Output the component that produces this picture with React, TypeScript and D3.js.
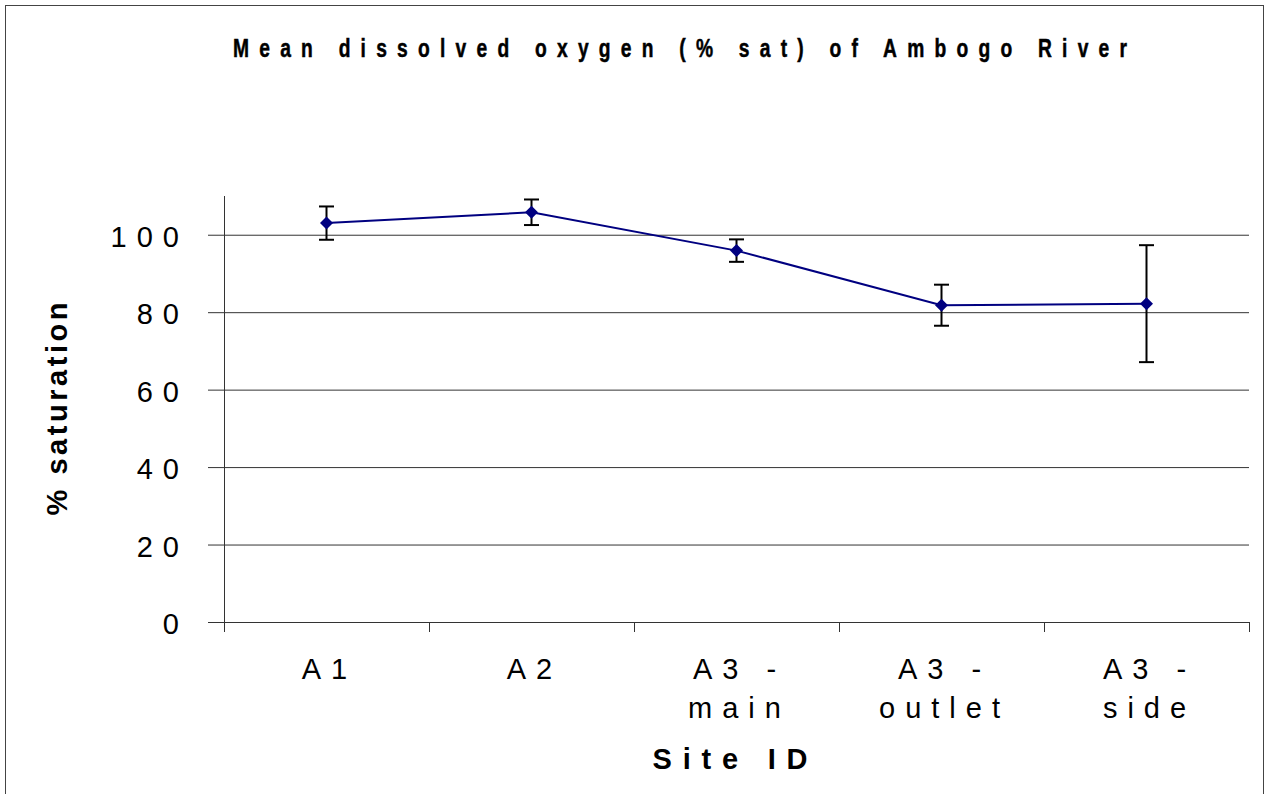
import React from 'react';
import * as d3 from 'd3';

const sites = ['A1', 'A2', 'A3 - main', 'A3 - outlet', 'A3 - side'];
const siteLines = [['A1'], ['A2'], ['A3  -', 'main'], ['A3  -', 'outlet'], ['A3  -', 'side']];
const meanSat = [103.0, 105.8, 95.9, 81.8, 82.2];
const errSat = [4.3, 3.3, 2.9, 5.3, 15.1];
const yTicks = [0, 20, 40, 60, 80, 100];

const W = 1268;
const H = 794;
const left = 224;
const right = 1249;
const top = 196;
const bottom = 622;

const labelFont = '"Liberation Sans", Arial, sans-serif';
const titleSquash = 0.74;

function App() {
  const x = d3.scaleBand<string>().domain(sites).range([left, right]).padding(0);
  const y = d3.scaleLinear().domain([0, 110]).range([bottom, top]);
  const cx = (s: string) => (x(s) as number) + x.bandwidth() / 2;

  const line = d3
    .line<number>()
    .x((_, i) => cx(sites[i]))
    .y(d => y(d));

  const diamond = (px: number, py: number) =>
    `M${px},${py - 6.5}L${px + 6.5},${py}L${px},${py + 6.5}L${px - 6.5},${py}Z`;

  const boundaries = [...sites.map(s => x(s) as number), right];

  return (
    <svg width={W} height={H} style={{ position: 'absolute', left: 0, top: 0, background: '#fff' }}>
      <rect x={5.5} y={5.5} width={1258} height={H + 20} fill="#fff" stroke="#444" strokeWidth={1} />

      <text
        transform={`translate(233,57) scale(${titleSquash},1)`}
        textLength={894 / titleSquash}
        lengthAdjust="spacing"
        fontFamily={labelFont}
        fontWeight="bold"
        fontSize={26}
        stroke="#000"
        strokeWidth={0.5}
      >
        Mean dissolved oxygen (% sat) of Ambogo River
      </text>

      {/* gridlines */}
      {yTicks.filter(t => t > 0).map(t => (
        <line key={t} x1={left} x2={right} y1={y(t) + 0.5} y2={y(t) + 0.5} stroke="#333" strokeWidth={1} />
      ))}

      {/* axes */}
      <line x1={left + 0.5} x2={left + 0.5} y1={top} y2={bottom + 10} stroke="#333" />
      <line x1={left - 16} x2={right} y1={bottom + 0.5} y2={bottom + 0.5} stroke="#333" />
      {yTicks.map(t => (
        <g key={t}>
          <line x1={left - 16} x2={left} y1={y(t) + 0.5} y2={y(t) + 0.5} stroke="#333" />
          <text
            x={left - 35}
            y={y(t) + 12}
            textAnchor="end"
            fontFamily={labelFont}
            fontSize={29}
            letterSpacing={10}
          >
            {t}
          </text>
        </g>
      ))}
      {boundaries.map((b, i) => (
        <line key={i} x1={b + 0.5} x2={b + 0.5} y1={bottom} y2={bottom + 10} stroke="#333" />
      ))}
      {sites.map((s, i) => (
        <text key={s} textAnchor="middle" fontFamily={labelFont} fontSize={29} letterSpacing={10}>
          {siteLines[i].map((ln, j) => (
            <tspan key={j} x={cx(s) + 3} y={679 + j * 39}>
              {ln}
            </tspan>
          ))}
        </text>
      ))}

      <text
        x={730}
        y={769}
        textAnchor="middle"
        textLength={155}
        lengthAdjust="spacing"
        fontFamily={labelFont}
        fontWeight="bold"
        fontSize={29}
      >
        Site ID
      </text>
      <text
        transform={`translate(67,${(top + bottom) / 2}) rotate(-90)`}
        textAnchor="middle"
        textLength={213}
        lengthAdjust="spacing"
        fontFamily={labelFont}
        fontWeight="bold"
        fontSize={29}
      >
        % saturation
      </text>

      {/* error bars */}
      {sites.map((s, i) => {
        const px = cx(s);
        const hi = y(meanSat[i] + errSat[i]);
        const lo = y(meanSat[i] - errSat[i]);
        return (
          <g key={s} stroke="#000" strokeWidth={2}>
            <line x1={px} x2={px} y1={hi} y2={lo} />
            <line x1={px - 7.5} x2={px + 7.5} y1={hi} y2={hi} />
            <line x1={px - 7.5} x2={px + 7.5} y1={lo} y2={lo} />
          </g>
        );
      })}

      <path d={line(meanSat) as string} fill="none" stroke="#000080" strokeWidth={2} />
      {sites.map((s, i) => (
        <path key={s} d={diamond(cx(s), y(meanSat[i]))} fill="#000080" />
      ))}
    </svg>
  );
}

export default App;
